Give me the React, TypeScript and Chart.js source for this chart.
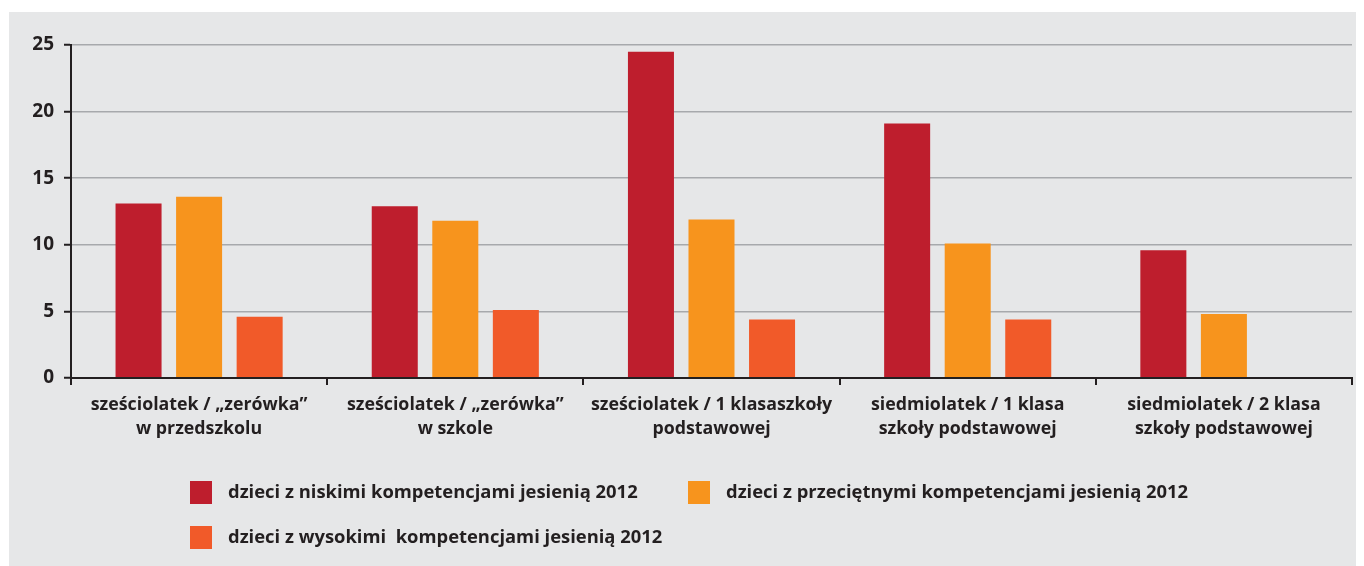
import React, { useEffect, useRef } from "react";
import { Chart, registerables } from "chart.js";

Chart.register(...registerables);

const categories: string[][] = [
  ["sześciolatek / „zerówka”", "w przedszkolu"],
  ["sześciolatek / „zerówka”", "w szkole"],
  ["sześciolatek / 1 klasaszkoły", "podstawowej"],
  ["siedmiolatek / 1 klasa", "szkoły podstawowej"],
  ["siedmiolatek / 2 klasa", "szkoły podstawowej"],
];

const seriesLabels = [
  "dzieci z niskimi kompetencjami jesienią 2012",
  "dzieci z przeciętnymi kompetencjami jesienią 2012",
  "dzieci z wysokimi  kompetencjami jesienią 2012",
];

const lowValues = [13.1, 12.9, 24.5, 19.1, 9.6];
const averageValues = [13.6, 11.8, 11.9, 10.1, 4.8];
const highValues: (number | null)[] = [4.6, 5.1, 4.4, 4.4, null];

const yTicks = [0, 5, 10, 15, 20, 25];

const colors = ["#be1e2d", "#f7941d", "#f15a29"];
const FONT = '"Open Sans", "Noto Sans", sans-serif';
const TEXT = "#231f20";

const legendPlugin = {
  id: "customLegend",
  afterDraw(chart: any) {
    const ctx = chart.ctx;
    const pos = [
      [181, 469],
      [679, 469],
      [181, 514],
    ];
    ctx.save();
    ctx.font = `700 18.4px ${FONT}`;
    ctx.textBaseline = "middle";
    ctx.textAlign = "left";
    chart.data.datasets.forEach((ds: any, i: number) => {
      const [x, y] = pos[i];
      ctx.fillStyle = ds.backgroundColor;
      ctx.fillRect(x, y, 22, 23);
      ctx.fillStyle = TEXT;
      ctx.fillText(ds.label, x + 38, y + 11.5);
    });
    ctx.restore();
  },
};

export default function App() {
  const ref = useRef<HTMLCanvasElement>(null);
  useEffect(() => {
    if (!ref.current) return;
    const chart = new Chart(ref.current, {
      type: "bar",
      data: {
        labels: categories,
        datasets: [
          { label: seriesLabels[0], data: lowValues, backgroundColor: colors[0] },
          { label: seriesLabels[1], data: averageValues, backgroundColor: colors[1] },
          { label: seriesLabels[2], data: highValues, backgroundColor: colors[2] },
        ],
      },
      options: {
        animation: false,
        responsive: false,
        events: [],
        layout: { padding: { top: 33, right: 12, left: 0, bottom: 98 } },
        datasets: {
          bar: { categoryPercentage: 0.709, barPercentage: 0.76 },
        },
        plugins: {
          legend: { display: false },
          tooltip: { enabled: false },
        },
        scales: {
          x: {
            offset: true,
            afterFit: (s: any) => {
              s.height = 90;
            },
            grid: {
              display: true,
              drawOnChartArea: false,
              offset: true,
              tickLength: 7,
              tickColor: TEXT,
              tickWidth: 2,
              color: TEXT,
              lineWidth: 2,
            },
            border: { display: true, color: TEXT, width: 2, z: 1 },
            ticks: {
              color: TEXT,
              font: { family: FONT, size: 17.8, weight: 700, lineHeight: 1.4 },
              padding: 7,
              maxRotation: 0,
              autoSkip: false,
            },
          },
          y: {
            min: 0,
            max: 25,
            afterFit: (s: any) => {
              s.width = 62;
            },
            afterBuildTicks: (s: any) => {
              s.ticks = yTicks.map((v) => ({ value: v }));
            },
            grid: {
              color: "#a7a9ac",
              lineWidth: 1.5,
              tickLength: 7,
              tickColor: TEXT,
              tickWidth: 2,
            },
            border: { display: true, color: TEXT, width: 2, z: 1 },
            ticks: {
              color: TEXT,
              font: { family: FONT, size: 19, weight: 700 },
              padding: 10,
            },
          },
        },
      },
      plugins: [legendPlugin],
    });
    return () => chart.destroy();
  }, []);
  return (
    <div style={{ padding: "4px 0 0 1px" }}>
      <canvas
        ref={ref}
        width={1355}
        height={554}
        style={{ display: "block", width: 1355, height: 554, background: "#e6e7e8" }}
      />
    </div>
  );
}
